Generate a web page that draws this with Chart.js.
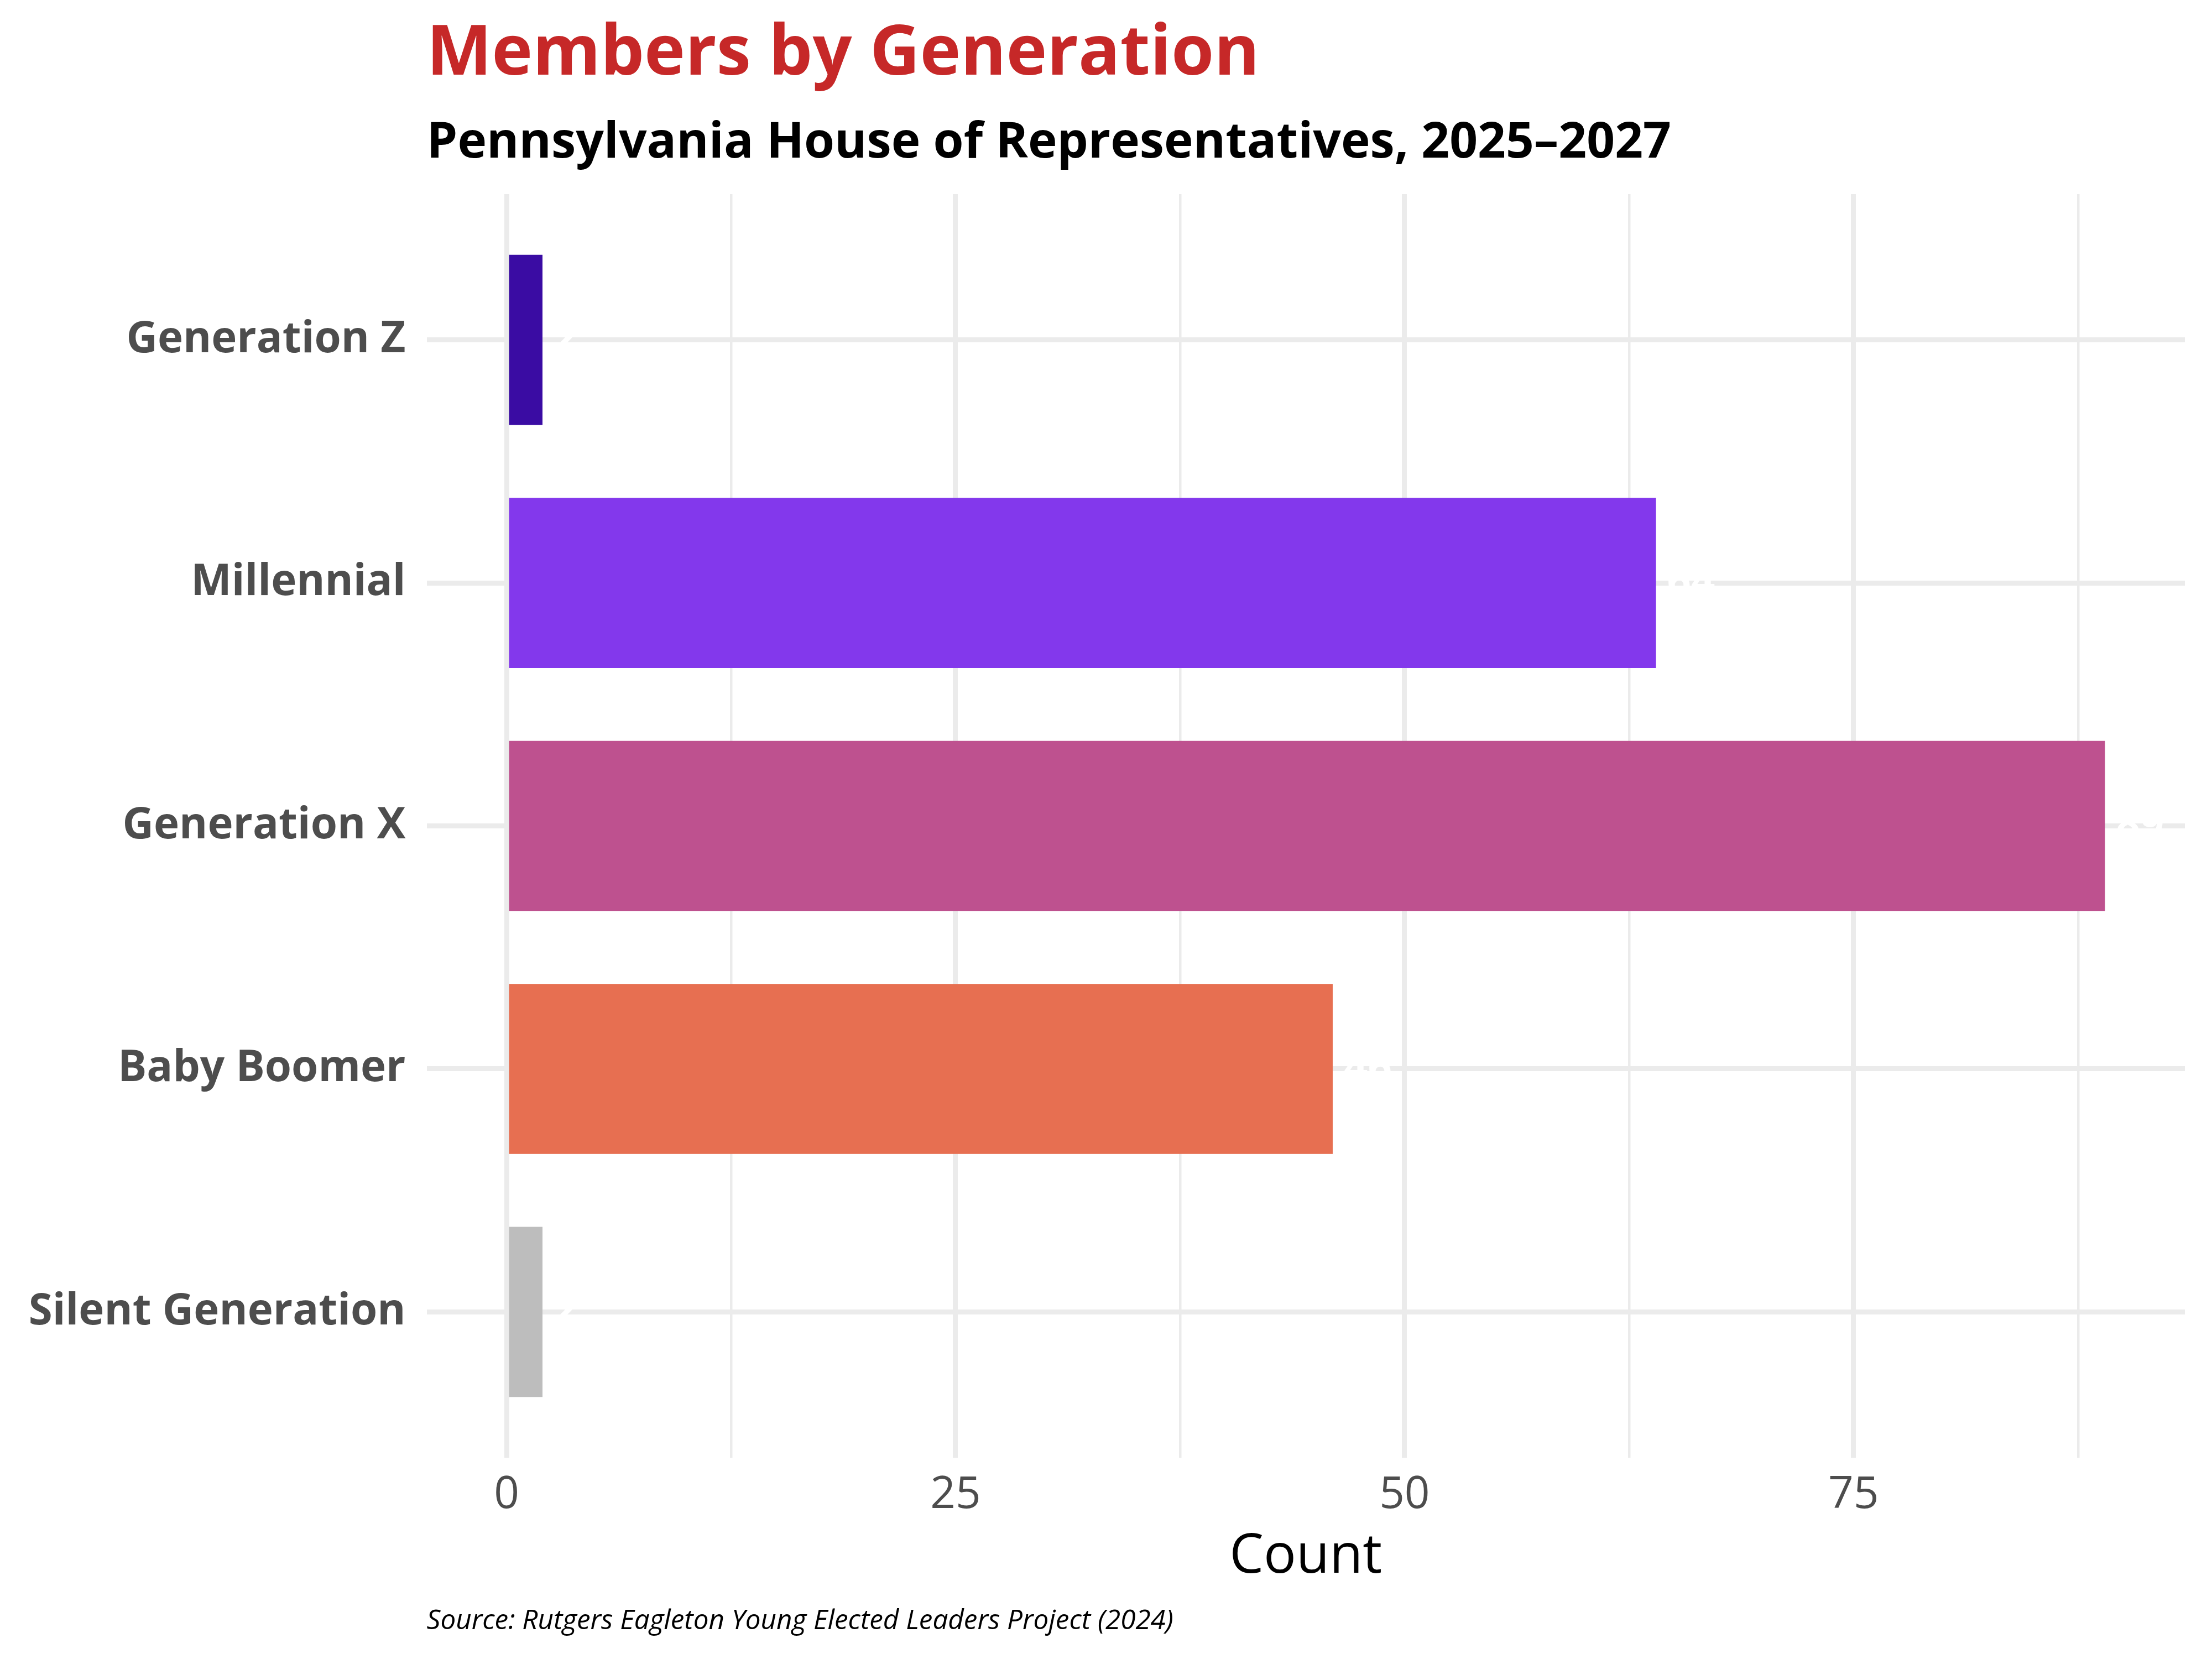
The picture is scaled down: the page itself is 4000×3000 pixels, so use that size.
<!DOCTYPE html>
<html>
<head>
<meta charset="utf-8">
<script src="https://cdn.jsdelivr.net/npm/chart.js@4.4.1/dist/chart.umd.min.js"></script>
<style>
  html, body { margin: 0; padding: 0; background: #ffffff; }
  #wrap { width: 4000px; height: 3000px; }
</style>
</head>
<body>
<div id="wrap"><canvas id="genChart"></canvas></div>
<script>
const generations = ["Generation Z", "Millennial", "Generation X", "Baby Boomer", "Silent Generation"];
const memberCounts = [2, 64, 89, 46, 2];
const barColors = ["#3A0CA3", "#8338EC", "#BE518F", "#E76F51", "#BDBDBD"];
const countTicks = [0, 25, 50, 75];
const minorTicks = [12.5, 37.5, 62.5, 87.5];
const sourceNote = "Source: Rutgers Eagleton Young Elected Leaders Project (2024)";

const FONT = "'Open Sans', 'Noto Sans', sans-serif";

// white count labels just right of each bar (only visible where they cross the grid)
const valueLabels = {
  id: "valueLabels",
  afterDatasetsDraw(chart) {
    const ctx = chart.ctx;
    const meta = chart.getDatasetMeta(0);
    ctx.save();
    ctx.font = "bold 76px " + FONT;
    ctx.fillStyle = "#ffffff";
    ctx.textAlign = "left";
    ctx.textBaseline = "middle";
    meta.data.forEach((bar, i) => {
      ctx.fillText(String(memberCounts[i]), bar.x + 20, bar.y);
    });
    ctx.restore();
  }
};

const caption = {
  id: "caption",
  afterDraw(chart) {
    const ctx = chart.ctx;
    ctx.save();
    ctx.font = "italic 49.4px " + FONT;
    ctx.fillStyle = "#000000";
    ctx.textAlign = "left";
    ctx.textBaseline = "alphabetic";
    ctx.fillText(sourceNote, chart.chartArea.left, chart.height - 54);
    ctx.restore();
  }
};

new Chart(document.getElementById("genChart"), {
  type: "bar",
  data: {
    datasets: [{
      data: memberCounts.map((v, i) => ({ x: v, y: i })),
      backgroundColor: barColors,
      borderWidth: 0,
      barPercentage: 0.7,
      categoryPercentage: 1.0
    }]
  },
  plugins: [valueLabels, caption],
  options: {
    indexAxis: "y",
    responsive: true,
    maintainAspectRatio: false,
    devicePixelRatio: 1,
    animation: false,
    layout: { padding: { left: 0, right: 49, top: 0, bottom: 125 } },
    plugins: {
      legend: { display: false },
      tooltip: { enabled: false },
      title: {
        display: true,
        text: "Members by Generation",
        align: "start",
        fullSize: false,
        color: "#C62828",
        font: { family: FONT, size: 125, weight: "bold", lineHeight: 1.0 },
        padding: { top: 36.5, bottom: 0 }
      },
      subtitle: {
        display: true,
        text: "Pennsylvania House of Representatives, 2025\u20132027",
        align: "start",
        fullSize: false,
        color: "#000000",
        font: { family: FONT, size: 89, weight: "bold", lineHeight: 1.0 },
        padding: { top: 53.5, bottom: 47 }
      }
    },
    scales: {
      x: {
        type: "linear",
        min: -4.45,
        max: 93.45,
        afterBuildTicks(scale) {
          scale.ticks = countTicks.concat(minorTicks).sort((a, b) => a - b).map((v) => ({ value: v }));
        },
        afterFit(scale) { scale.height = 239; },
        ticks: {
          color: "#4D4D4D",
          font: { family: FONT, size: 80 },
          padding: 20,
          maxRotation: 0,
          autoSkip: false,
          callback: (v) => (countTicks.includes(v) ? String(v) : "")
        },
        grid: {
          color: "#EBEBEB",
          lineWidth: (c) => (c.tick && countTicks.includes(c.tick.value) ? 9 : 4.5),
          drawTicks: false
        },
        border: { display: false },
        title: {
          display: true,
          text: "Count",
          color: "#000000",
          font: { family: FONT, size: 98 },
          padding: { top: 0, bottom: 0 }
        }
      },
      y: {
        type: "linear",
        reverse: true,
        offset: false,
        min: -0.6,
        max: 4.6,
        afterBuildTicks(scale) {
          scale.ticks = generations.map((g, i) => ({ value: i }));
        },
        afterFit(scale) { scale.width = 771.5; },
        ticks: {
          color: "#4D4D4D",
          font: { family: FONT, size: 78, weight: "bold" },
          padding: 38,
          autoSkip: false,
          callback: (v) => generations[v]
        },
        grid: { color: "#EBEBEB", lineWidth: 9, drawTicks: false, offset: false },
        border: { display: false }
      }
    }
  }
});
</script>
</body>
</html>
